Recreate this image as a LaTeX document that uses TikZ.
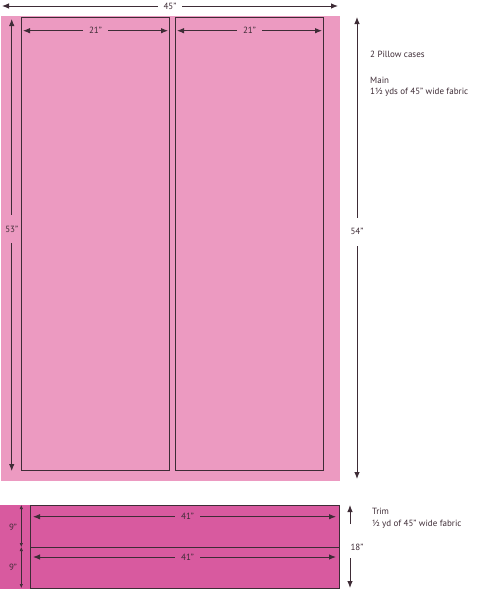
\documentclass[tikz,border=0pt]{standalone}
\usepackage{fontspec}
\setmainfont{PT Sans}
\usetikzlibrary{arrows.meta}
\definecolor{mainpink}{HTML}{EC9AC1}
\definecolor{trimpink}{HTML}{D85A9F}
\definecolor{ink}{HTML}{3E2C36}
\tikzset{
  piece/.style={draw=ink, line width=0.8pt},
  dim/.style={draw=ink, line width=0.9pt, {Latex[length=7pt,width=5.5pt]}-{Latex[length=7pt,width=5.5pt]}},
  half/.style={draw=ink, line width=0.9pt, -{Latex[length=7pt,width=5.5pt]}},
  lbl/.style={font=\fontsize{9}{10}\selectfont, text=ink, inner sep=0pt},
  gap/.style={lbl, inner xsep=6pt, inner ysep=3pt},
  vgap/.style={lbl, inner xsep=0.5pt, inner ysep=11pt},
  note/.style={font=\fontsize{9}{11}\selectfont, text=ink, anchor=west, align=left, inner sep=0pt}
}
\begin{document}
\begin{tikzpicture}[x=1pt,y=-1pt]
\useasboundingbox (0,0) rectangle (483,589);
% main fabric
\fill[mainpink] (1,16) rectangle (340,481);
\draw[piece] (21.3,17.3) rectangle (169.7,470.7);
\draw[piece] (175.3,17.3) rectangle (323.7,470.7);
% 45 arrow
\coordinate (w1) at (2,6);
\coordinate (w2) at (338,6);
\draw[dim] (w1) -- (w2) node[midway, gap, fill=white] (l45) {45”};
% 21 arrows
\coordinate (a1) at (23,30.7);
\coordinate (a2) at (168,30.7);
\draw[dim] (a1) -- (a2) node[midway, gap, fill=mainpink] (l21a) {21”};
\coordinate (b1) at (177,30.7);
\coordinate (b2) at (322,30.7);
\draw[dim] (b1) -- (b2) node[midway, gap, fill=mainpink] (l21b) {21”};
% 53 arrow
\coordinate (h1) at (11.7,19);
\coordinate (h2) at (11.7,471);
\draw[dim] (h1) -- (h2) node[pos=0.465, vgap, fill=mainpink] (l53) {53”};
% 54 arrow
\coordinate (k1) at (357,17);
\coordinate (k2) at (357,479);
\draw[dim] (k1) -- (k2) node[pos=0.465, vgap, fill=white] (l54) {54”};
% notes
\node[note] (n1) at (370,54) {2 Pillow cases};
\node[note] (n2) at (370,80) {Main};
\node[note] (n3) at (370,92) {1½ yds of 45” wide fabric};
% trim fabric
\fill[trimpink] (0,505) rectangle (339,588.5);
\draw[piece] (30.3,505) rectangle (339,588);
\draw[piece] (30.3,547) -- (339,547);
\coordinate (c1) at (33,516.7);
\coordinate (c2) at (336,516.7);
\draw[dim] (c1) -- (c2) node[pos=0.51, gap, fill=trimpink] (l41a) {41”};
\coordinate (d1) at (33,557);
\coordinate (d2) at (336,557);
\draw[dim] (d1) -- (d2) node[pos=0.51, gap, fill=trimpink] (l41b) {41”};
% 9 arrows
\coordinate (e1) at (21.3,505);
\coordinate (e2) at (21.3,547);
\coordinate (e3) at (21.3,588);
\draw[draw=ink, line width=0.6pt, {Latex[length=4pt,width=3.5pt]}-{Latex[length=4pt,width=3.5pt]}] (e1) -- (e2);
\draw[draw=ink, line width=0.6pt, {Latex[length=4pt,width=3.5pt]}-{Latex[length=4pt,width=3.5pt]}] (e2) -- (e3);
\node[lbl] (l9a) at (13,527) {9”};
\node[lbl] (l9b) at (13,567) {9”};
% 18 arrow
\coordinate (f1) at (350,524);
\coordinate (f0) at (350,505);
\coordinate (f2) at (350,558);
\coordinate (f3) at (350,588);
\draw[half] (f1) -- (f0);
\draw[half] (f2) -- (f3);
\node[lbl] (l18) at (357,547) {18”};
\node[note] (t1) at (372,511) {Trim};
\node[note] (t2) at (372,524) {½ yd of 45”  wide fabric};
\end{tikzpicture}
\end{document}
